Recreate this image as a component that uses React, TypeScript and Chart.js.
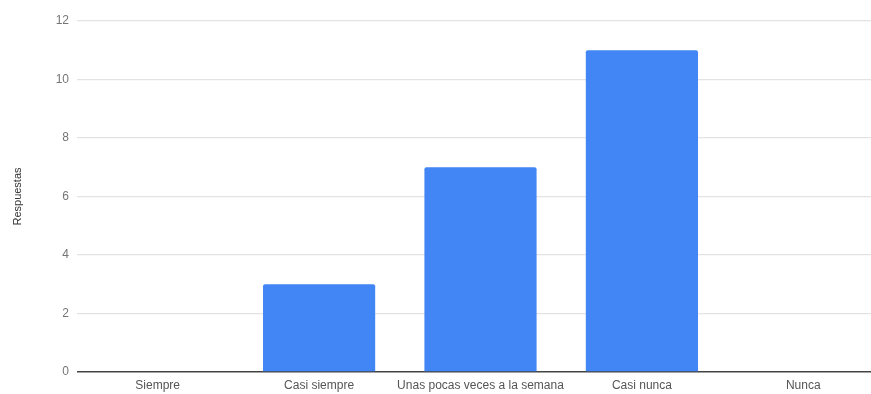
import React, { useEffect, useRef } from "react";
import { Chart, registerables } from "chart.js";

Chart.register(...registerables);

const categories = ["Siempre", "Casi siempre", "Unas pocas veces a la semana", "Casi nunca", "Nunca"];
const respuestas = [0, 3, 7, 11, 0];
const yTicks = [0, 2, 4, 6, 8, 10, 12];
const yTitle = "Respuestas";

export default function App() {
  const ref = useRef<HTMLCanvasElement | null>(null);
  useEffect(() => {
    if (!ref.current) return;
    const chart = new Chart(ref.current, {
      type: "bar",
      data: {
        labels: categories,
        datasets: [
          {
            label: yTitle,
            data: respuestas,
            backgroundColor: "#4285f4",
            borderWidth: 0,
            borderRadius: 2,
            borderSkipped: "bottom",
            categoryPercentage: 1,
            barPercentage: 0.695,
          },
        ],
      },
      options: {
        animation: false,
        responsive: true,
        maintainAspectRatio: false,
        layout: { padding: { top: 21, right: 0, left: 0, bottom: 0 } },
        plugins: { legend: { display: false }, tooltip: { enabled: false } },
        scales: {
          x: {
            grid: { display: false, drawTicks: false },
            border: { display: false },
            ticks: {
              color: "#555",
              font: { family: "Arial, 'Liberation Sans'", size: 12 },
              padding: 6,
              maxRotation: 0,
              autoSkip: false,
            },
            afterFit: (s: any) => {
              s.height = 22;
            },
          },
          y: {
            min: 0,
            max: 12,
            afterBuildTicks: (s: any) => {
              s.ticks = yTicks.map((v) => ({ value: v }));
            },
            grid: {
              drawTicks: false,
              color: (c: any) => (c.tick && c.tick.value === 0 ? "#444" : "#e3e3e3"),
              lineWidth: (c: any) => (c.tick && c.tick.value === 0 ? 1.5 : 1.2),
            },
            border: { display: false },
            ticks: {
              color: "#757575",
              font: { family: "Arial, 'Liberation Sans'", size: 12 },
              padding: 8,
            },
            title: {
              display: true,
              text: yTitle,
              color: "#333",
              font: { family: "Arial, 'Liberation Sans'", size: 11 },
              padding: { top: 11, bottom: 0 },
            },
            afterFit: (s: any) => {
              s.width = 77;
            },
          },
        },
      },
    });
    return () => chart.destroy();
  }, []);
  return (
    <div style={{ position: "absolute", left: 0, top: 0, width: 871, height: 394, background: "#fff", overflow: "hidden" }}>
      <div style={{ position: "relative", width: 884, height: 394 }}>
        <canvas ref={ref} />
      </div>
    </div>
  );
}
